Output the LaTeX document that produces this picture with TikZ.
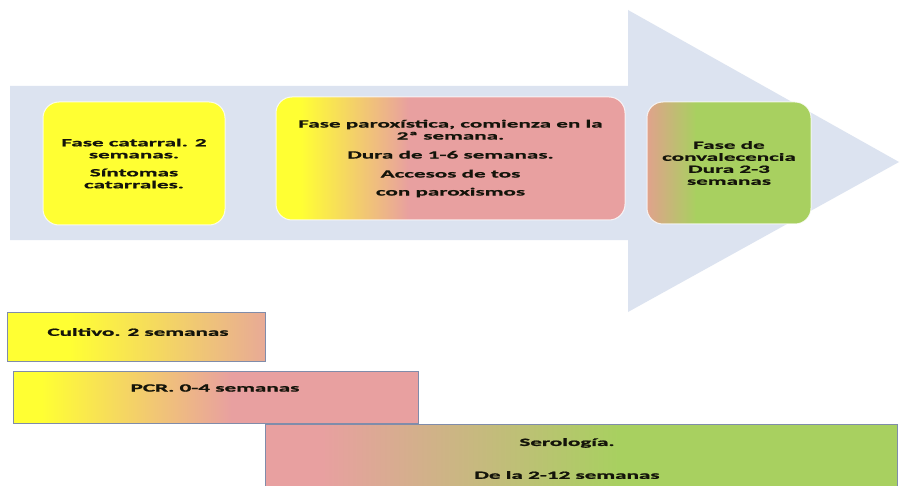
\documentclass[tikz,border=0pt]{standalone}
\usepackage{fontspec}
\newfontfamily\dfont{Carlito}[FakeStretch=2.1, BoldFeatures={FakeBold=1.5}]
\definecolor{arrowc}{RGB}{220,227,240}
\definecolor{cyel}{RGB}{255,255,51}
\definecolor{cpink}{RGB}{232,160,160}
\definecolor{cgreen}{RGB}{168,208,96}
\definecolor{ctan}{RGB}{224,162,140}
\definecolor{cpeach}{RGB}{232,170,150}
\definecolor{cedge}{RGB}{128,140,170}
\definecolor{ctext}{RGB}{20,20,10}
\pgfdeclarehorizontalshading{shtwo}{100bp}{color(0bp)=(cyel); color(28.5bp)=(cyel); color(44bp)=(cpink); color(100bp)=(cpink)}
\pgfdeclarehorizontalshading{shthree}{100bp}{color(0bp)=(ctan); color(25bp)=(ctan); color(40bp)=(cgreen); color(100bp)=(cgreen)}
\pgfdeclarehorizontalshading{shcult}{100bp}{color(0bp)=(cyel); color(37bp)=(cyel); color(75bp)=(cpeach); color(100bp)=(cpeach)}
\pgfdeclarehorizontalshading{shpcr}{100bp}{color(0bp)=(cyel); color(28.5bp)=(cyel); color(52bp)=(cpink); color(100bp)=(cpink)}
\pgfdeclarehorizontalshading{shsero}{100bp}{color(0bp)=(cpink); color(29.5bp)=(cpink); color(53bp)=(cgreen); color(100bp)=(cgreen)}
\begin{document}
\begin{tikzpicture}[x=1pt,y=-1pt,
  txt/.style={text=ctext, align=center, inner sep=0pt,
    font={\dfont\bfseries\fontsize{11}{12}\selectfont}},
  phase/.style={txt, rounded corners=16pt, draw=white, draw opacity=0.8, line width=1pt},
  bar/.style={draw=cedge, line width=0.8pt, inner sep=0pt}]
\clip (0,0) rectangle (901,486);
\fill[white] (0,0) rectangle (901,486);
% big arrow
\fill[arrowc] (10,86) -- (628,86) -- (628,10) -- (899,162) -- (628,312) -- (628,240) -- (10,240) -- cycle;
% phase boxes
\node[phase, fill=cyel, minimum width=182pt, minimum height=123pt] (p1) at (134,163.5)
  {Fase catarral. 2\\ semanas.\\[6pt] Síntomas\\ catarrales.};
\node[phase, shading=shtwo, minimum width=349pt, minimum height=123pt] (p2) at (450.5,158.5)
  {Fase paroxística, comienza en la\\ 2ª semana.\\[7pt] Dura de 1-6 semanas.\\[7pt] Accesos de tos\\[6pt] con paroxismos};
\node[phase, shading=shthree, minimum width=164pt, minimum height=122pt] (p3) at (729,163)
  {Fase de\\ convalecencia\\ Dura 2-3\\ semanas};
% test bars
\node[bar, shading=shcult, minimum width=258pt, minimum height=49pt] (cult) at (136,336.5) {};
\node[txt] (cultt) at (138,332) {Cultivo. 2 semanas};
\node[bar, shading=shpcr, minimum width=405pt, minimum height=52pt] (pcr) at (215.5,397) {};
\node[txt] (pcrt) at (215,388) {PCR. 0-4 semanas};
\node[bar, shading=shsero, minimum width=632pt, minimum height=72pt] (sero) at (581,460) {};
\node[txt] (serot1) at (567,443) {Serología.};
\node[txt] (serot2) at (567,475) {De la 2-12 semanas};
\end{tikzpicture}
\end{document}
